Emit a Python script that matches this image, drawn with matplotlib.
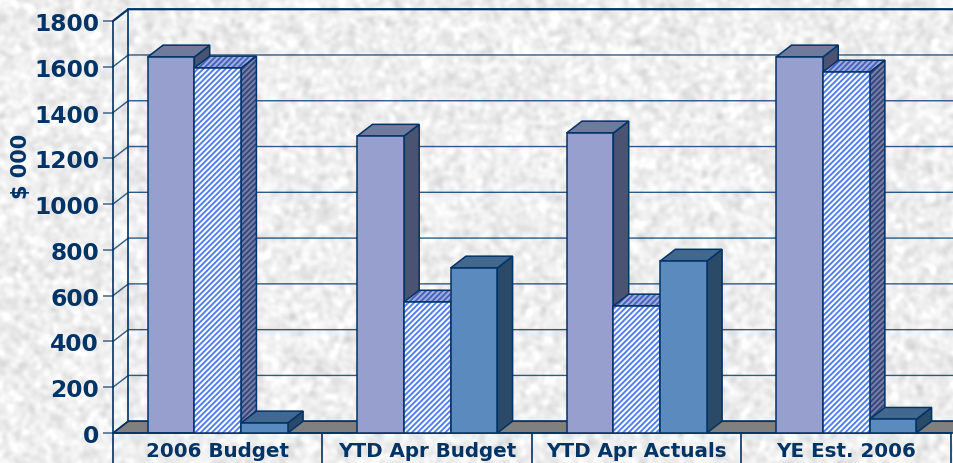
import numpy as np
import matplotlib
matplotlib.use("Agg")
import matplotlib.pyplot as plt
from matplotlib.patches import Polygon

categories = ["2006 Budget", "YTD Apr Budget", "YTD Apr Actuals", "YE Est. 2006"]
series_a = [1643, 1297, 1311, 1643]
series_b = [1595, 572, 555, 1577]
series_c = [44, 721, 751, 60]
yticks = [0, 200, 400, 600, 800, 1000, 1200, 1400, 1600, 1800]

navy = "#003366"
W, H = 954, 464
plt.rcParams["hatch.linewidth"] = 1.35
plt.rcParams["font.family"] = "DejaVu Sans"

fig = plt.figure(figsize=(W / 100, H / 100), dpi=100)

# granite paper background (just a texture, not data)
rng = np.random.default_rng(7)
fx = np.fft.fftfreq(W)[None, :]
fy = np.fft.fftfreq(H)[:, None]
noise = np.fft.ifft2(np.fft.fft2(rng.normal(size=(H, W))) * np.exp(-(fx**2 + fy**2) * 110)).real
noise = noise / noise.std()
bgax = fig.add_axes([0, 0, 1, 1], zorder=0)
bgax.imshow(np.clip(0.935 + 0.028 * noise, 0, 1), cmap="gray", vmin=0, vmax=1, aspect="auto")
bgax.axis("off")

ax = fig.add_axes([113 / W, (H - 434) / H, (951 - 113) / W, (434 - 22) / H], zorder=1)
ax.patch.set_alpha(0)
ax.set_xlim(0, 4)
ax.set_ylim(0, 1800)

# depth of the fake 3d in data units
ddx = 15.3 / ((951 - 113) / 4)
ddy = 11.8 / ((434 - 22) / 1800)
bw = 46.7 / ((951 - 113) / 4)

# floor
ax.add_patch(Polygon([(0, 0), (ddx, ddy), (4.2, ddy), (4.2, 0)], fc="#808080", ec=navy, lw=1.2, clip_on=False, zorder=1))

# back wall and gridlines
for v in yticks:
    ax.plot([0, ddx, 4.2], [v, v + ddy, v + ddy], color=navy, lw=1.6 if v == 1800 else 1.0, clip_on=False, zorder=1, alpha=1 if v in (0, 1800) else 0.8)
ax.plot([ddx, ddx], [ddy, 1800 + ddy], color=navy, lw=1.2, clip_on=False, zorder=1)


def bar3d(x, v, front, side, top, hatch=None, hatch_side=None, hatch_top=None, z=2):
    ax.add_patch(Polygon([(x + bw, 0), (x + bw + ddx, ddy), (x + bw + ddx, v + ddy), (x + bw, v)],
                         fc=side, ec=hatch_side or "none", hatch=hatch, lw=0, clip_on=False, zorder=z))
    ax.add_patch(Polygon([(x + bw, 0), (x + bw + ddx, ddy), (x + bw + ddx, v + ddy), (x + bw, v)],
                         fc="none", ec=navy, lw=1.1, clip_on=False, zorder=z))
    ax.add_patch(Polygon([(x, v), (x + ddx, v + ddy), (x + bw + ddx, v + ddy), (x + bw, v)],
                         fc=top, ec=hatch_top or "none", hatch=hatch, lw=0, clip_on=False, zorder=z))
    ax.add_patch(Polygon([(x, v), (x + ddx, v + ddy), (x + bw + ddx, v + ddy), (x + bw, v)],
                         fc="none", ec=navy, lw=1.1, clip_on=False, zorder=z))
    if hatch:
        ax.bar(x, v, bw, align="edge", color=front, edgecolor="#4F7BF7", hatch=hatch, lw=0, zorder=z)
        ax.bar(x, v, bw, align="edge", color="none", edgecolor=navy, lw=1.1, zorder=z)
    else:
        ax.bar(x, v, bw, align="edge", color=front, edgecolor=navy, lw=1.1, zorder=z)


for i in range(len(categories)):
    x0 = i + 0.5 - 1.5 * bw
    bar3d(x0, series_a[i], "#969FCE", "#4B5373", "#707A9C", z=2 + i * 3)
    bar3d(x0 + bw, series_b[i], "white", "#7580A8", "#9FAEE0", hatch="//////",
          hatch_side="#36447A", hatch_top="#4560B8", z=3 + i * 3)
    bar3d(x0 + 2 * bw, series_c[i], "#5B8BBE", "#2B4A68", "#42688F", z=4 + i * 3)

ax.set_xticks(np.arange(len(categories)) + 0.5)
ax.set_xticklabels(categories, fontsize=14.3, fontweight="bold", color=navy)
ax.set_xticks(np.arange(len(categories) + 1), minor=True)
ax.tick_params(axis="x", which="major", length=0, pad=6)
ax.tick_params(axis="x", which="minor", length=23, width=1.2, color=navy)
ax.set_yticks(yticks)
ax.set_yticklabels(yticks, fontsize=16.8, fontweight="bold", color=navy)
ax.tick_params(axis="y", length=7, width=1.2, color="#50708F", pad=3)
ax.set_ylabel("$ 000", fontsize=15, fontweight="bold", color=navy, labelpad=0)
ax.yaxis.set_label_coords(-82 / (951 - 113), 0.65)
for s in ["top", "right"]:
    ax.spines[s].set_visible(False)
for s in ["left", "bottom"]:
    ax.spines[s].set_color(navy)
    ax.spines[s].set_linewidth(1.2)

fig.savefig("out.png", dpi=100)
